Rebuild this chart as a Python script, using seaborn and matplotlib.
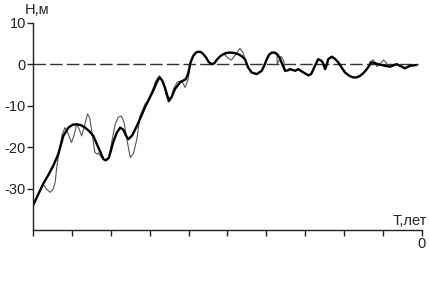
import matplotlib
matplotlib.use("Agg")
import matplotlib.pyplot as plt
import seaborn as sns
import pandas as pd

# Thick (smoothed) curve: time (scaled) and level H (m)
t_thick = [-10.0, -9.87, -9.74, -9.61, -9.48, -9.35, -9.22, -9.09, -8.98, -8.88,
           -8.77, -8.66, -8.55, -8.45, -8.32, -8.19, -8.13, -8.05, -7.94, -7.85,
           -7.76, -7.68, -7.61, -7.55, -7.45, -7.33, -7.22, -7.12, -7.01, -6.91,
           -6.82, -6.75, -6.68, -6.61, -6.55, -6.50, -6.43, -6.35, -6.22, -6.07,
           -6.01, -5.95, -5.88, -5.81, -5.75, -5.68, -5.62, -5.55, -5.49, -5.41,
           -5.34, -5.28, -5.20, -5.11, -5.03, -4.94, -4.83, -4.72, -4.63, -4.55,
           -4.47, -4.38, -4.25, -4.12, -4.05, -3.99, -3.93, -3.86, -3.79, -3.72,
           -3.66, -3.61, -3.52, -3.45, -3.39, -3.26, -3.18, -3.05, -2.92, -2.85,
           -2.79, -2.73, -2.67, -2.60, -2.55, -2.49, -2.45, -2.41, -2.32, -2.24,
           -2.15, -2.06, -1.98, -1.87, -1.77, -1.68, -1.59, -1.50, -1.42, -1.36,
           -1.30, -1.22, -1.13, -0.95, -0.82, -0.65, -0.52, -0.44, -0.31, -0.14]
h_thick = [-34.1, -31.5, -28.9, -26.8, -24.5, -21.7, -17.3, -15.3, -14.6, -14.5,
           -14.7, -15.3, -16.2, -17.3, -20.1, -22.9, -23.2, -22.6, -18.9, -16.6,
           -15.3, -15.8, -17.2, -18.1, -17.2, -14.9, -12.6, -10.4, -8.3, -6.4,
           -4.4, -3.2, -3.9, -5.6, -7.5, -8.8, -7.8, -6.0, -4.4, -3.6,
           -2.2, 0.4, 2.0, 2.8, 3.0, 2.9, 2.4, 1.6, 0.6, 0.0,
           0.2, 1.0, 1.8, 2.4, 2.7, 2.8, 2.7, 2.4, 1.9, 1.2,
           -0.8, -2.0, -2.4, -1.6, -0.2, 1.2, 2.3, 2.8, 2.8, 2.4,
           1.5, 0.4, -1.6, -1.5, -1.2, -1.6, -1.2, -2.0, -2.7, -2.4,
           -1.2, 0.0, 1.2, 0.9, 0.4, -1.2, -0.2, 1.2, 1.8, 1.3,
           0.4, -0.9, -2.0, -2.8, -3.2, -3.2, -2.8, -2.1, -1.2, -0.4,
           0.4, 0.3, 0.0, -0.4, -0.6, 0.0, -0.6, -1.0, -0.4, -0.2]

# Thin (raw) curve
t_thin = [-10.0, -9.87, -9.74, -9.65, -9.56, -9.49, -9.43, -9.39, -9.32, -9.25,
          -9.18, -9.09, -9.01, -8.94, -8.88, -8.82, -8.75, -8.68, -8.60, -8.54,
          -8.49, -8.41, -8.35, -8.32, -8.25, -8.19, -8.13, -8.05, -7.96, -7.89,
          -7.81, -7.73, -7.66, -7.58, -7.50, -7.42, -7.33, -7.25, -7.12, -7.04,
          -6.95, -6.84, -6.75, -6.66, -6.59, -6.52, -6.45, -6.39, -6.29, -6.18,
          -6.09, -6.01, -5.95, -5.88, -5.81, -5.75, -5.68, -5.62, -5.55, -5.49,
          -5.41, -5.34, -5.28, -5.20, -5.11, -5.06, -4.98, -4.90, -4.83, -4.76,
          -4.68, -4.60, -4.55, -4.47, -4.38, -4.25, -4.12, -4.05, -3.99, -3.93,
          -3.86, -3.79, -3.73, -3.72, -3.67, -3.62, -3.56, -3.52, -3.45, -3.39,
          -3.26, -3.18, -3.05, -2.92, -2.85, -2.79, -2.73, -2.67, -2.60, -2.55,
          -2.49, -2.45, -2.41, -2.32, -2.24, -2.15, -2.06, -1.98, -1.87, -1.77,
          -1.68, -1.59, -1.50, -1.42, -1.36, -1.34, -1.25, -1.16, -1.08, -0.99,
          -0.92, -0.89, -0.82, -0.65, -0.52, -0.44, -0.31, -0.14]
h_thin = [-34.1, -31.5, -28.9, -30.2, -30.9, -30.3, -28.5, -24.9, -20.5, -17.0,
          -15.3, -16.9, -18.9, -17.0, -14.5, -15.5, -17.3, -15.0, -12.0, -13.0,
          -16.1, -21.3, -21.7, -21.4, -22.4, -22.9, -23.2, -22.6, -18.0, -14.6,
          -12.8, -12.5, -14.0, -18.5, -22.5, -21.6, -18.1, -12.5, -9.6, -8.8,
          -6.8, -4.0, -2.8, -4.2, -7.0, -9.2, -8.2, -6.0, -4.3, -4.0,
          -5.6, -3.6, 0.4, 2.0, 2.8, 3.0, 2.9, 2.4, 1.6, 0.6,
          0.0, 0.2, 1.0, 1.8, 2.4, 2.2, 1.4, 1.0, 1.8, 2.8,
          3.8, 2.8, 1.2, -0.8, -2.0, -2.4, -1.6, -0.2, 1.2, 2.3,
          2.8, 2.6, 2.4, 0.0, 1.0, 1.9, 0.9, -1.6, -1.5, -1.2,
          -1.6, -1.2, -2.0, -2.7, -2.4, -1.2, 0.0, 1.2, 0.9, 0.4,
          -1.2, -0.2, 1.2, 1.8, 1.3, 0.4, -0.9, -2.0, -2.8, -3.2,
          -3.2, -2.8, -2.1, -1.2, -0.2, 0.6, 1.0, -0.6, 0.0, 1.0,
          0.4, -0.4, -0.6, 0.0, -0.6, -1.0, -0.4, -0.2]

y_ticks = [10, 0, -10, -20, -30]
y_labels = ["10", "0", "-10", "-20", "-30"]
x_ticks = [-10, -9, -8, -7, -6, -5, -4, -3, -2, -1, 0]
x_labels = ["", "", "", "", "", "", "", "", "", "", "0"]

sns.set_style("white")
plt.rcParams["font.family"] = ["Liberation Sans", "DejaVu Sans"]

fig = plt.figure(figsize=(4.29, 2.89), dpi=100)
W, H = 429, 289
x0, x1 = 33, 422
ytop, ybot = 22.7, 230
ax = fig.add_axes([x0 / W, (H - ybot) / H, (x1 - x0) / W, (ybot - ytop) / H])

df_thin = pd.DataFrame({"t": t_thin, "h": h_thin})
df_thick = pd.DataFrame({"t": t_thick, "h": h_thick})

ax.axhline(0, xmin=0, xmax=0.99, color="#333333", lw=1.0, dashes=(9, 3))
sns.lineplot(data=df_thin, x="t", y="h", ax=ax, color="#555555", lw=0.8,
             sort=False, estimator=None, solid_joinstyle="round")
sns.lineplot(data=df_thick, x="t", y="h", ax=ax, color="black", lw=1.7,
             sort=False, estimator=None, solid_joinstyle="round",
             solid_capstyle="round")

ax.set_xlim(-10, 0)
ax.set_ylim(-40, 10)
ax.set_xticks(x_ticks)
ax.set_xticklabels(x_labels)
ax.set_yticks(y_ticks)
ax.set_yticklabels(y_labels)
ax.set_xlabel("")
ax.set_ylabel("")
for s in ["top", "right"]:
    ax.spines[s].set_visible(False)
for s in ["left", "bottom"]:
    ax.spines[s].set_color("#222222")
    ax.spines[s].set_linewidth(1.0)
ax.tick_params(axis="both", direction="out", length=4, width=1.0, colors="#222222",
               labelsize=10.5, pad=1)
ax.tick_params(axis="x", bottom=True)
ax.tick_params(axis="y", left=True)

fig.text(25 / W, 1 - 10 / H, "Н,м", fontsize=10.5, ha="left", va="center")
fig.text(427 / W, 1 - 221 / H, "Т,лет", fontsize=10.5, ha="right", va="center")

fig.savefig("out.png", dpi=100)
